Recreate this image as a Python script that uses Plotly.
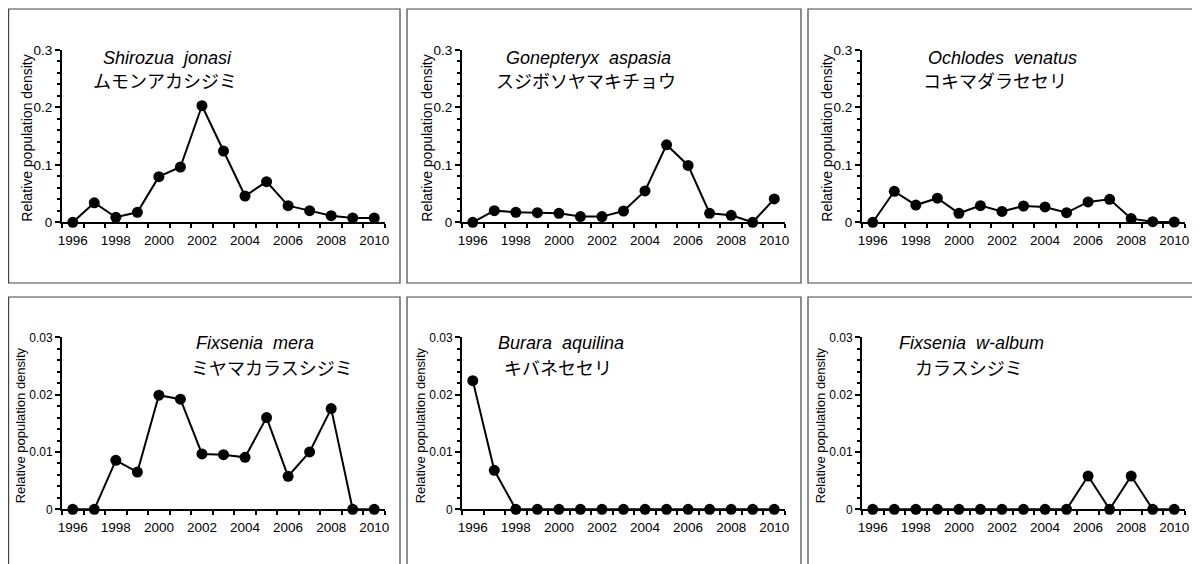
import plotly.graph_objects as go

W, H = 1200, 564
OFF = 8  # page body margin in the browser

years = list(range(1996, 2011))
x_tick_years = [1996, 1998, 2000, 2002, 2004, 2006, 2008, 2010]

shirozua_jonasi = [0, 0.034, 0.0087, 0.0174, 0.0795, 0.0963, 0.203, 0.124,
                   0.0458, 0.0708, 0.029, 0.0203, 0.0116, 0.0075, 0.0075]
gonepteryx_aspasia = [0, 0.0203, 0.0174, 0.0168, 0.0157, 0.0099, 0.0099, 0.0197,
                      0.0546, 0.135, 0.099, 0.0157, 0.0122, 0, 0.0406]
ochlodes_venatus = [0, 0.054, 0.030, 0.042, 0.0157, 0.029, 0.019, 0.0284,
                    0.0267, 0.0168, 0.0354, 0.040, 0.0064, 0.001, 0.0005]
fixsenia_mera = [0, 0, 0.00855, 0.0065, 0.0199, 0.0192, 0.00965, 0.00953,
                 0.00907, 0.016, 0.00576, 0.0100, 0.01756, 0, 0]
burara_aquilina = [0.02244, 0.0068, 0, 0, 0, 0, 0, 0, 0, 0, 0, 0, 0, 0, 0]
fixsenia_w_album = [0, 0, 0, 0, 0, 0, 0, 0, 0, 0, 0.0058, 0, 0.0058, 0, 0]

latin_names = ["Shirozua  jonasi", "Gonepteryx  aspasia", "Ochlodes  venatus",
               "Fixsenia  mera", "Burara  aquilina", "Fixsenia  w-album"]
japanese_names = ["ムモンアカシジミ", "スジボソヤマキチョウ", "コキマダラセセリ",
                  "ミヤマカラスシジミ", "キバネセセリ", "カラスシジミ"]
series = [shirozua_jonasi, gonepteryx_aspasia, ochlodes_venatus,
          fixsenia_mera, burara_aquilina, fixsenia_w_album]
y_max = [0.3, 0.3, 0.3, 0.03, 0.03, 0.03]
y_dtick = [0.1, 0.1, 0.1, 0.01, 0.01, 0.01]
y_title = "Relative population density"

# layout geometry (page pixels)
col_off = [0, 400, 800]
plot_x0, plot_x1 = 62, 385
row_y = [(50, 222.3), (337.3, 509.3)]
latin_pos = [(167, 58), (588, 58), (1002, 58), (255, 343), (561, 343), (971, 343)]
jp_pos = [(165, 80), (586, 80), (995, 80), (272, 367), (558, 367), (969, 367)]
box_x = [(8.6, 400), (407, 801), (808, 1215)]
box_y = [(9, 283), (297, 590)]

def fx(p):
    return (p - OFF) / W

def fy(p):
    return 1 - (p - OFF) / H

FONT = "Liberation Sans, Arial, Helvetica, sans-serif"
JPFONT = "Noto Sans CJK JP, sans-serif"

fig = go.Figure()
layout = dict(width=W, height=H, autosize=False,
              margin=dict(l=0, r=0, t=0, b=0, pad=0, autoexpand=False),
              paper_bgcolor="white", plot_bgcolor="white", showlegend=False,
              font=dict(family=FONT, color="black"))
annotations = []
shapes = []

for i in range(6):
    r, c = divmod(i, 3)
    n = i + 1
    xa = "x" if n == 1 else f"x{n}"
    ya = "y" if n == 1 else f"y{n}"
    fig.add_trace(go.Scatter(
        x=years, y=series[i], xaxis=xa, yaxis=ya, mode="lines+markers",
        line=dict(color="black", width=2),
        marker=dict(color="black", size=11), cliponaxis=False))
    top, bot = row_y[r]
    tick_size = 13.5 if r == 0 else 12
    layout["xaxis" if n == 1 else f"xaxis{n}"] = dict(
        domain=[fx(plot_x0 + col_off[c]), fx(plot_x1 + col_off[c])],
        anchor=ya, range=[1995.5, 2010.5], showgrid=False, zeroline=False,
        automargin=False,
        showline=True, linecolor="black", linewidth=2,
        tickmode="array", tickvals=x_tick_years,
        ticktext=[str(v) for v in x_tick_years],
        ticks="outside", ticklen=4, tickcolor="rgba(0,0,0,0)",
        tickfont=dict(size=13.5, family=FONT, color="black"),
        minor=dict(tickmode="linear", tick0=1995.5, dtick=1, ticks="outside",
                   ticklen=4, tickwidth=1.5, tickcolor="black", showgrid=False))
    layout["yaxis" if n == 1 else f"yaxis{n}"] = dict(
        domain=[fy(bot), fy(top)], anchor=xa, range=[0, y_max[i]],
        automargin=False,
        showgrid=False, zeroline=False, showline=True, linecolor="black",
        linewidth=2, tickmode="linear", tick0=0, dtick=y_dtick[i],
        ticks="outside", ticklen=5, tickwidth=1.5, tickcolor="black",
        tickfont=dict(size=tick_size, family=FONT, color="black"),
        minor=dict(tickmode="linear", tick0=0, dtick=y_dtick[i] / 5,
                   ticks="outside", ticklen=3, tickwidth=1.5,
                   tickcolor="black", showgrid=False))
    # y title
    annotations.append(dict(
        x=fx((27.5 if r == 0 else 20) + col_off[c]), y=fy((top + bot) / 2 + 2),
        xref="paper", yref="paper", text=y_title, showarrow=False,
        textangle=-90, xanchor="center", yanchor="middle",
        font=dict(size=14 if r == 0 else 13, family=FONT, color="black")))
    lx, ly = latin_pos[i]
    annotations.append(dict(
        x=fx(lx), y=fy(ly), xref="paper", yref="paper",
        text=f"<i>{latin_names[i]}</i>", showarrow=False,
        xanchor="center", yanchor="middle",
        font=dict(size=18, family=FONT, color="black")))
    jx, jy = jp_pos[i]
    annotations.append(dict(
        x=fx(jx), y=fy(jy), xref="paper", yref="paper",
        text=japanese_names[i], showarrow=False,
        xanchor="center", yanchor="middle",
        font=dict(size=18, family=JPFONT, color="black")))

for (bx0, bx1) in box_x:
    for (by0, by1) in box_y:
        shapes.append(dict(type="rect", xref="paper", yref="paper",
                           x0=fx(bx0), x1=fx(bx1), y0=fy(by1), y1=fy(by0),
                           line=dict(color="#444444", width=1.2),
                           fillcolor="rgba(0,0,0,0)", layer="below"))

layout["annotations"] = annotations
layout["shapes"] = shapes
fig.update_layout(**layout)
fig.write_html("out.html")
